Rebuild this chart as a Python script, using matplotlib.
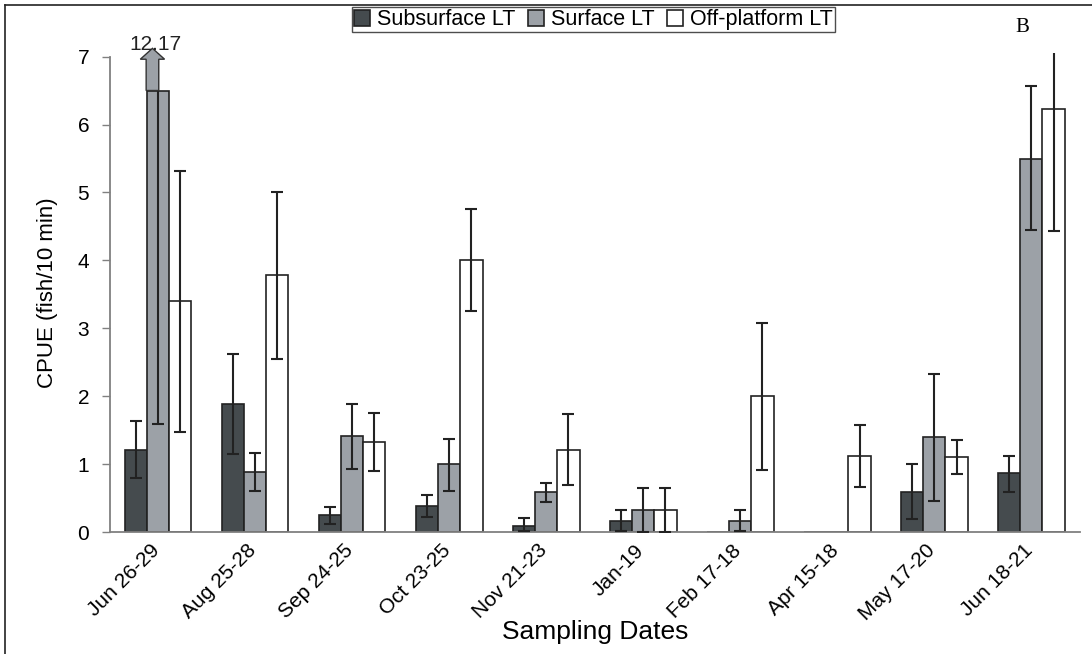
import numpy as np
import matplotlib
matplotlib.use('Agg')
import matplotlib.pyplot as plt
from matplotlib.lines import Line2D
from matplotlib.patches import FancyArrow

plt.rcParams['font.family'] = ['Liberation Sans', 'DejaVu Sans']

fechas = ['Jun 26-29', 'Aug 25-28', 'Sep 24-25', 'Oct 23-25', 'Nov 21-23',
          'Jan-19', 'Feb 17-18', 'Apr 15-18', 'May 17-20', 'Jun 18-21']

# media y limites inferior / superior de la barra de error
sub_media = [1.22, 1.89, 0.25, 0.39, 0.10, 0.17, 0.00, 0.00, 0.60, 0.87]
sub_inf = [0.80, 1.15, 0.12, 0.23, 0.02, 0.02, 0.00, 0.00, 0.20, 0.59]
sub_sup = [1.64, 2.63, 0.38, 0.55, 0.21, 0.33, 0.00, 0.00, 1.00, 1.13]

sup_media = [12.17, 0.89, 1.42, 1.00, 0.59, 0.33, 0.17, 0.00, 1.40, 5.50]
sup_inf = [1.59, 0.61, 0.93, 0.61, 0.45, 0.00, 0.02, 0.00, 0.47, 4.45]
sup_sup = [22.75, 1.17, 1.89, 1.38, 0.73, 0.66, 0.33, 0.00, 2.33, 6.56]

off_media = [3.40, 3.78, 1.33, 4.00, 1.22, 0.33, 2.00, 1.13, 1.11, 6.23]
off_inf = [1.48, 2.55, 0.91, 3.25, 0.70, 0.00, 0.92, 0.67, 0.86, 4.43]
off_sup = [5.31, 5.01, 1.75, 4.75, 1.74, 0.66, 3.08, 1.58, 1.36, 7.40]

TOPE = 6.5  # altura maxima dibujada antes de cortar la barra


def main():
    fig = plt.figure(figsize=(10.92, 6.54), dpi=100)
    ax = fig.add_axes([0.1007, 0.1858, 0.8883, 0.7330])

    x = np.arange(len(fechas))
    w = 0.227
    series = [
        (sub_media, sub_inf, sub_sup, '#454b4e', 'Subsurface LT', -w),
        (sup_media, sup_inf, sup_sup, '#9ca1a7', 'Surface LT', 0.0),
        (off_media, off_inf, off_sup, 'white', 'Off-platform LT', w),
    ]
    for media, inf, sup, color, nombre, dx in series:
        media = np.array(media)
        inf = np.array(inf)
        sup = np.array(sup)
        alto = np.minimum(media, TOPE)
        ax.bar(x + dx, alto, width=w, color=color, edgecolor='#222222',
               linewidth=1.2, label=nombre, zorder=2)
        mask = (sup - inf) > 0
        ax.errorbar((x + dx)[mask], alto[mask],
                    yerr=[(alto - inf)[mask], (sup - alto)[mask]], fmt='none',
                    ecolor='#222222', elinewidth=1.5, capsize=4.5,
                    capthick=1.5, zorder=3)

    # flecha de la barra cortada
    flecha = FancyArrow(x[0] - 0.062, TOPE, 0, 7.12 - TOPE, width=0.13,
                        head_width=0.25, head_length=0.16,
                        length_includes_head=True, facecolor='#9ca1a7',
                        edgecolor='#333333', linewidth=1.0, clip_on=False,
                        zorder=4)
    ax.add_patch(flecha)
    ax.text(x[0] - 0.03, 7.09, '%.2f' % sup_media[0], ha='center',
            va='baseline', fontsize=15, color='#222222', clip_on=False,
            zorder=5)

    ax.set_xlim(-0.5, len(fechas) - 0.5)
    ax.set_ylim(0, 7.05)
    ax.set_yticks(range(8))
    # las etiquetas quedan algo a la izquierda del centro de cada grupo
    ax.set_xticks(x - 0.09)
    ax.set_xticklabels(fechas, rotation=45, ha='right',
                       rotation_mode='anchor', fontsize=15)
    ax.tick_params(axis='x', length=0, pad=6)
    ax.tick_params(axis='y', length=6, width=1, color='#808080',
                   labelsize=15, pad=9)
    for s in ['top', 'right']:
        ax.spines[s].set_visible(False)
    for s in ['left', 'bottom']:
        ax.spines[s].set_color('#808080')
        ax.spines[s].set_linewidth(1.3)
    ax.spines['left'].set_bounds(0, 7)

    ax.set_ylabel('CPUE (fish/10 min)', fontsize=16,
                  family=['Liberation Sans Narrow', 'Liberation Sans'],
                  labelpad=14)
    ax.set_xlabel('Sampling Dates', fontsize=19, labelpad=-3)

    ax.legend(loc='upper left', bbox_to_anchor=(352 / 1092, 1 - 7 / 654),
              bbox_transform=fig.transFigure, ncol=3, frameon=True,
              fancybox=False, edgecolor='#222222', fontsize=15.5,
              handlelength=0.75, handleheight=0.75, handletextpad=0.3,
              columnspacing=0.6, borderpad=0.1, borderaxespad=0)

    fig.text(1022 / 1092, 1 - 28 / 654, 'B', ha='center', va='center',
             fontsize=15, family='Liberation Serif')

    # marco exterior
    fig.add_artist(Line2D([5 / 1092, 1], [1 - 5 / 654] * 2,
                          color='#222222', linewidth=1.2))
    fig.add_artist(Line2D([5 / 1092] * 2, [0, 1 - 5 / 654],
                          color='#222222', linewidth=1.2))

    fig.savefig('out.png', dpi=100)


if __name__ == '__main__':
    main()
